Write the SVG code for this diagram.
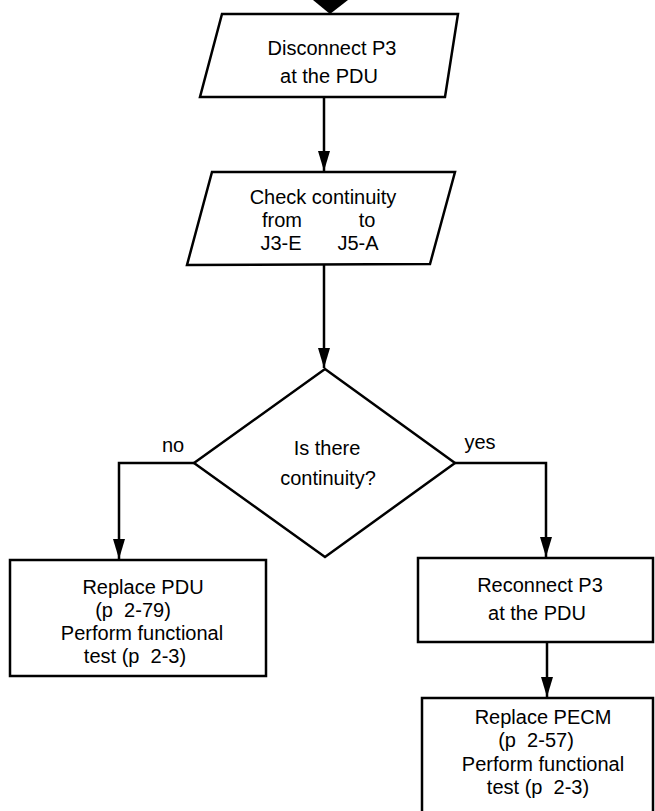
<svg xmlns="http://www.w3.org/2000/svg" width="655" height="811" viewBox="0 0 655 811">
<style>
.shape{fill:#fff;stroke:#000;stroke-width:2.5;stroke-linejoin:miter}
.edge{fill:none;stroke:#000;stroke-width:2.5}
text{font-family:"Liberation Sans",Arial,sans-serif;font-size:20px;fill:#000;text-anchor:middle;white-space:pre}
</style>
<defs>
<marker id="arr" viewBox="0 0 20 12" refX="20" refY="6" markerWidth="20" markerHeight="12" markerUnits="userSpaceOnUse" orient="auto">
<path d="M0,0 L20,6 L0,12 Z" fill="#000"/>
</marker>
</defs>
<rect width="655" height="811" fill="#fff"/>
<g id="connectors">
<polygon points="313,0 348,0 330,14" fill="#000"/>
<line class="edge" x1="324" y1="97" x2="324" y2="171" marker-end="url(#arr)"/>
<line class="edge" x1="324" y1="264" x2="324" y2="368" marker-end="url(#arr)"/>
<path class="edge" d="M194,463 H119 V559" marker-end="url(#arr)"/>
<path class="edge" d="M455,463 H546 V557" marker-end="url(#arr)"/>
<line class="edge" x1="547" y1="642" x2="547" y2="697" marker-end="url(#arr)"/>
<text x="173" y="452">no</text>
<text x="480" y="449">yes</text>
</g>
<g id="disconnect">
<polygon class="shape" points="222,14 458,14 445,97 200,97"/>
<text x="332" y="55">Disconnect P3</text>
<text x="329" y="83">at the PDU</text>
</g>
<g id="check">
<polygon class="shape" points="212,172 455,172 430,264 187,265"/>
<text x="323" y="204">Check continuity</text>
<text x="282" y="227">from</text>
<text x="367" y="227">to</text>
<text x="281" y="250">J3-E</text>
<text x="358" y="250">J5-A</text>
</g>
<g id="decision">
<polygon class="shape" points="325,369 455,463 325,557 194,463"/>
<text x="327" y="455">Is there</text>
<text x="328" y="485">continuity?</text>
</g>
<g id="replace-pdu">
<rect class="shape" x="10" y="560" width="256" height="116"/>
<text x="143" y="594">Replace PDU</text>
<text x="133" y="617">(p  2-79)</text>
<text x="142" y="640">Perform functional</text>
<text x="135" y="663">test (p  2-3)</text>
</g>
<g id="reconnect">
<rect class="shape" x="418" y="558" width="235" height="84"/>
<text x="540" y="592">Reconnect P3</text>
<text x="537" y="620">at the PDU</text>
</g>
<g id="replace-pecm">
<rect class="shape" x="422" y="698" width="231" height="125"/>
<text x="543" y="724">Replace PECM</text>
<text x="536" y="747">(p  2-57)</text>
<text x="543" y="771">Perform functional</text>
<text x="538" y="794">test (p  2-3)</text>
</g>
</svg>
